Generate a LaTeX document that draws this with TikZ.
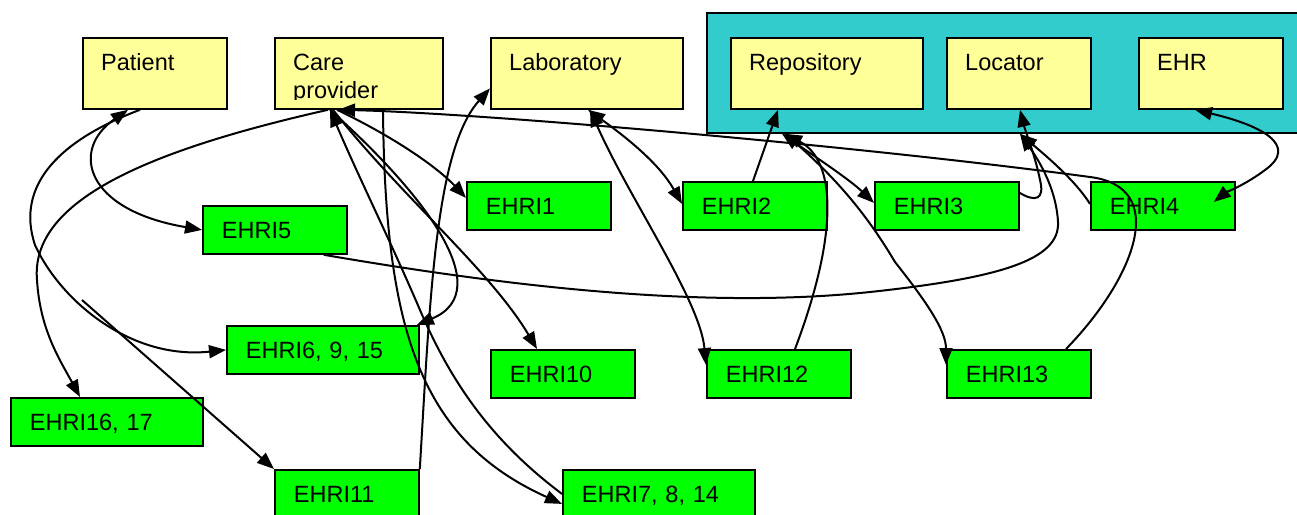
\documentclass[tikz,border=0pt]{standalone}
\usepackage{fontspec}
\setmainfont{Liberation Sans}
\usetikzlibrary{arrows.meta}
\definecolor{yel}{HTML}{FFFF99}
\definecolor{grn}{HTML}{00FF00}
\definecolor{tealc}{HTML}{33CCCC}
\begin{document}
\begin{tikzpicture}[x=1pt,y=-1pt,
  font=\fontsize{23.5}{28}\selectfont,
  contbox/.style={draw, fill=tealc, anchor=north west, inner sep=0pt, line width=1.8pt},
  ybox/.style={draw, fill=yel, anchor=north west, inner sep=0pt, minimum height=71pt, line width=1.8pt},
  lbl/.style={anchor=base west, inner sep=0pt},
  gbox/.style={draw, fill=grn, anchor=north west, inner xsep=19pt, inner ysep=0pt,
    minimum height=48pt, text height=17pt, text depth=0pt, align=left, text width=#1, line width=1.8pt},
  arr/.style={line width=2pt, -{Triangle[length=17pt,width=13pt]}},
  darr/.style={line width=2pt, {Triangle[length=17pt,width=13pt]}-{Triangle[length=17pt,width=13pt]}}]
\useasboundingbox (0,0) rectangle (1297,514);

% container and yellow boxes
\node[contbox, minimum width=604pt, minimum height=120pt] (cont) at (706,12) {};
\node[ybox, minimum width=144pt] (pat) at (82,37) {};
\node[ybox, minimum width=168pt] (cp) at (274,37) {};
\node[ybox, minimum width=192pt] (lab) at (490,37) {};
\node[ybox, minimum width=192pt] (rep) at (730,37) {};
\node[ybox, minimum width=144pt] (loc) at (946,37) {};
\node[ybox, minimum width=144pt] (ehr) at (1138,37) {};

\node[lbl] (patT) at (101,70) {Patient};
\node[lbl] (cpT1) at (293,70) {Care};
\begin{scope}
  \clip (274,37) rectangle (442,99);
  \node[lbl] (cpT2) at (293,98) {provider};
\end{scope}
\node[lbl] (labT) at (509,70) {Laboratory};
\node[lbl] (repT) at (749,70) {Repository};
\node[lbl] (locT) at (965,70) {Locator};
\node[lbl] (ehrT) at (1157,70) {EHR};

% green boxes
\node[gbox=106pt] (e1) at (466,181) {EHRI1};
\node[gbox=106pt] (e2) at (682,181) {EHRI2};
\node[gbox=106pt] (e3) at (874,181) {EHRI3};
\node[gbox=106pt] (e4) at (1090,181) {EHRI4};
\node[gbox=106pt] (e5) at (202,205) {EHRI5};
\node[gbox=154pt] (e6) at (226,325) {EHRI6, 9, 15};
\node[gbox=106pt] (e10) at (490,349) {EHRI10};
\node[gbox=106pt] (e12) at (706,349) {EHRI12};
\node[gbox=106pt] (e13) at (946,349) {EHRI13};
\node[gbox=154pt] (e16) at (10,397) {EHRI16, 17};
\node[gbox=106pt] (e11) at (274,469) {EHRI11};
\node[gbox=154pt] (e7) at (562,469) {EHRI7, 8, 14};

% connectors
\draw[darr] ([xshift=46pt]pat.south west) .. controls (70,150) and (85,210) .. (e5.west);
\draw[arr] ([xshift=58pt]pat.south west) .. controls (60,140) and (15,185) .. (35,245)
   .. controls (60,300) and (130,360) .. (e6.west);
\coordinate (j11) at (82,300);
\draw[arr] (j11) -- (e11.north west);

\draw[arr] ([xshift=54pt]cp.south west) .. controls (150,150) and (30,200) .. (37,280)
   .. controls (40,330) and (60,360) .. ([xshift=70pt]e16.north west);
\draw[arr] ([xshift=120pt]e13.north west) .. controls (1135,278) and (1170,187) .. (1090,177)
   .. controls (860,146) and (480,113) .. ([xshift=64pt]cp.south west);
\draw[arr] ([xshift=63pt]cp.south west) .. controls (400,140) and (440,170) .. ([yshift=8pt]e1.west);
\draw[arr] ([xshift=56pt]cp.south west) .. controls (420,190) and (500,290) .. ([xshift=-3pt]e6.north east);
\draw[arr] ([xshift=59pt]cp.south west) .. controls (400,195) and (490,270) .. ([xshift=47pt]e10.north west);
\draw[arr] (e7.west) .. controls (490,440) and (450,380) .. (420,310)
   .. controls (390,240) and (360,180) .. ([xshift=56pt]cp.south west);
\draw[arr] ([xshift=109pt]cp.south west) .. controls (385,330) and (420,440) .. ([yshift=-10pt]e7.west);
\draw[arr] (e11.north east) .. controls (430,300) and (435,150) .. ([yshift=-15pt]lab.west);

\draw[darr] ([xshift=98pt]lab.south west) .. controls (630,140) and (660,165) .. ([yshift=2pt]e2.west);
\draw[darr] ([xshift=100pt]lab.south west) .. controls (630,200) and (700,300) .. ([yshift=-16pt]e12.north west);
\draw[arr] ([xshift=71pt]e2.north west) -- ([xshift=48pt]rep.south west);

\draw[darr] ([xshift=76pt]cont.south west) .. controls (820,160) and (850,180) .. ([yshift=3pt]e3.west);
\draw[arr] ([xshift=89pt]e12.north west) .. controls (840,230) and (835,160) .. ([xshift=79pt]cont.south west);
\draw[arr] ([xshift=79pt]cont.south west) .. controls (840,180) and (870,220) .. (895,262)
   .. controls (925,300) and (946,330) .. ([yshift=-16pt]e13.north west);

\draw[arr] ([xshift=-24pt]e5.south east) .. controls (500,285) and (700,310) .. (870,292)
   .. controls (1000,278) and (1060,260) .. (1058,222)
   .. controls (1056,185) and (1035,155) .. ([xshift=314pt]cont.south west);
\draw[arr] ([yshift=2pt]e4.west) .. controls (1075,180) and (1045,155) .. ([xshift=314pt]cont.south west);
\draw[arr] ([yshift=13pt]e3.east) .. controls (1035,202) and (1045,200) .. (1040,180)
   .. controls (1035,155) and (1025,130) .. ([xshift=74pt]loc.south west);
\draw[darr] ([xshift=57pt]ehr.south west) .. controls (1260,125) and (1300,145) .. (1265,170)
   .. controls (1245,185) and (1225,193) .. ([xshift=-22pt,yshift=4pt]e4.east);
\end{tikzpicture}
\end{document}
